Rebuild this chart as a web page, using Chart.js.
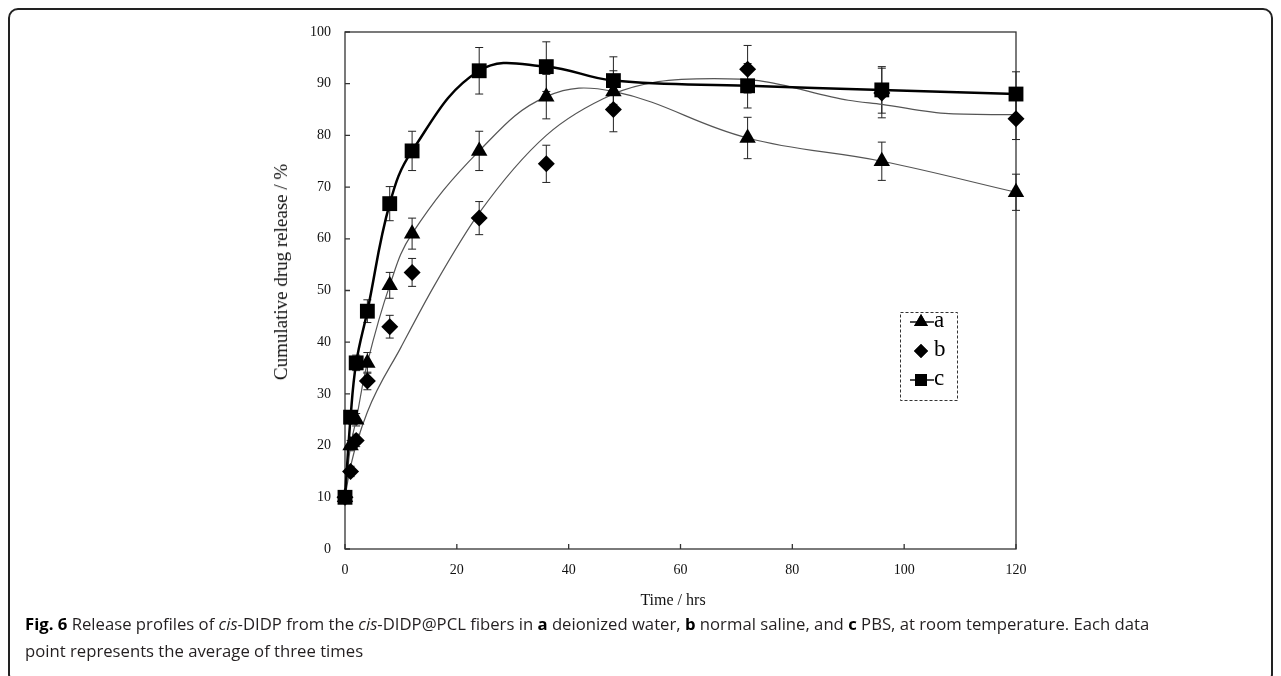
<!DOCTYPE html>
<html lang="en">
<head>
<meta charset="UTF-8">
<title>Release profiles of cis-DIDP</title>
<script src="https://cdn.jsdelivr.net/npm/chart.js"></script>
<style>
  body { margin: 0; background: #fff; }
  .page { position: relative; width: 1281px; height: 676px; overflow: hidden; }
  .frame {
    position: absolute; left: 8px; top: 8px; width: 1265px; height: 676px;
    box-sizing: border-box; border: 2px solid #222; border-radius: 10px;
  }
  #releaseChart { position: absolute; left: 0; top: 0; }
  .ytitle {
    position: absolute; left: 281px; top: 272px;
    transform: translate(-50%, -50%) rotate(-90deg);
    font: 19px "Liberation Serif", serif; color: #111; white-space: nowrap;
  }
  .xtitle {
    position: absolute; left: 673px; top: 600px; transform: translate(-50%, -50%);
    font: 16px "Liberation Serif", serif; color: #111; white-space: nowrap;
  }
  .caption {
    position: absolute; left: 25px; top: 610px;
    font: 16.7px "Open Sans", sans-serif; line-height: 27px; color: #231f20;
    white-space: nowrap;
  }
  .caption b { font-weight: 700; color: #000; }
</style>
</head>
<body>
<div class="page">
  <div class="frame"></div>
  <canvas id="releaseChart" width="1281" height="676"></canvas>
  <div class="ytitle">Cumulative drug release / %</div>
  <div class="xtitle">Time / hrs</div>
  <div class="caption">
    <b>Fig. 6</b> Release profiles of <i>cis</i>-DIDP from the <i>cis</i>-DIDP@PCL fibers in <b>a</b> deionized water, <b>b</b> normal saline, and <b>c</b> PBS, at room temperature. Each data<br>
    point represents the average of three times
  </div>
</div>
<script>
// sampling times (h)
const hours = [0, 1, 2, 4, 8, 12, 24, 36, 48, 72, 96, 120];

// cumulative release (%) and error bars
const releaseA = [10, 20, 25, 36, 51, 61, 77, 87.5, 88.5, 79.5, 75, 69];
const errA     = [0, 1, 1.2, 2, 2.5, 3, 3.8, 4.3, 4, 4, 3.7, 3.5];
const releaseB = [10, 15, 21, 32.5, 43, 53.5, 64, 74.5, 85, 92.8, 88.2, 83.2];
const errB     = [0, 1, 1.2, 1.7, 2.2, 2.7, 3.2, 3.6, 4.3, 4.6, 4.8, 4];
const releaseC = [10, 25.5, 36, 46, 66.8, 77, 92.5, 93.3, 90.6, 89.6, 88.8, 88];
const errC     = [0, 1.2, 1.5, 2.2, 3.3, 3.8, 4.5, 4.8, 4.6, 4.3, 4.5, 4.3];

// smoothed curve drawn for series b (does not pass through its points)
const curveHoursB = [0, 1, 4, 10, 16, 24, 36, 48, 56, 66, 74, 90, 96, 108, 120];
const curveB      = [10, 16, 26.5, 39, 51, 65, 80, 88, 90.4, 91, 90.6, 86.8, 86, 84.2, 84];

const xTicks = [0, 20, 40, 60, 80, 100, 120];
const yTicks = [0, 10, 20, 30, 40, 50, 60, 70, 80, 90, 100];

const toPoints = (xs, ys) => xs.map((x, i) => ({ x: x, y: ys[i] }));

// vertical error bars with caps
const errorBars = {
  id: 'errorBars',
  beforeDatasetsDraw(chart) {
    const { ctx, scales: { x, y } } = chart;
    ctx.save();
    ctx.strokeStyle = '#222';
    ctx.lineWidth = 1;
    chart.data.datasets.forEach(ds => {
      if (!ds.errors) return;
      ds.data.forEach((p, i) => {
        const e = ds.errors[i];
        if (!e) return;
        const px = x.getPixelForValue(p.x);
        const top = y.getPixelForValue(p.y + e);
        const bot = y.getPixelForValue(p.y - e);
        ctx.beginPath();
        ctx.moveTo(px, top); ctx.lineTo(px, bot);
        ctx.moveTo(px - 4, top); ctx.lineTo(px + 4, top);
        ctx.moveTo(px - 4, bot); ctx.lineTo(px + 4, bot);
        ctx.stroke();
      });
    });
    ctx.restore();
  }
};

// box round the plot and inside tick marks
const plotFrame = {
  id: 'plotFrame',
  beforeDatasetsDraw(chart) {
    const { ctx, chartArea: a, scales: { x, y } } = chart;
    ctx.save();
    ctx.strokeStyle = '#333';
    ctx.lineWidth = 1.3;
    ctx.strokeRect(a.left, a.top, a.right - a.left, a.bottom - a.top);
    ctx.beginPath();
    x.ticks.forEach(t => {
      const px = x.getPixelForValue(t.value);
      ctx.moveTo(px, a.bottom); ctx.lineTo(px, a.bottom - 5);
    });
    y.ticks.forEach(t => {
      const py = y.getPixelForValue(t.value);
      ctx.moveTo(a.left, py); ctx.lineTo(a.left + 5, py);
    });
    ctx.stroke();
    ctx.restore();
  }
};

// dashed legend box inside the plot
const boxLegend = {
  id: 'boxLegend',
  afterDraw(chart) {
    const ctx = chart.ctx;
    const entries = [
      { label: 'a', style: 'triangle', r: 8, line: true, y: 322 },
      { label: 'b', style: 'rectRot', r: 7, line: false, y: 351 },
      { label: 'c', style: 'rect', r: 8.5, line: true, y: 380 }
    ];
    ctx.save();
    ctx.strokeStyle = '#333';
    ctx.lineWidth = 1;
    ctx.setLineDash([3, 2]);
    ctx.strokeRect(900.5, 312.5, 57, 88);
    ctx.setLineDash([]);
    entries.forEach(e => {
      if (e.line) {
        ctx.strokeStyle = '#111';
        ctx.lineWidth = 1.5;
        ctx.beginPath();
        ctx.moveTo(910, e.y); ctx.lineTo(934, e.y);
        ctx.stroke();
      }
      ctx.fillStyle = '#000';
      Chart.helpers.drawPoint(ctx, { pointStyle: e.style, radius: e.r, rotation: 0, borderWidth: 0 }, 921, e.y);
      ctx.fill();
      ctx.font = '23px "Liberation Serif", serif';
      ctx.textBaseline = 'middle';
      ctx.textAlign = 'left';
      ctx.fillText(e.label, 934, e.y - 1);
    });
    ctx.restore();
  }
};

new Chart(document.getElementById('releaseChart'), {
  type: 'scatter',
  data: {
    datasets: [
      {
        label: 'b curve',
        data: toPoints(curveHoursB, curveB),
        showLine: true, tension: 0.4, cubicInterpolationMode: 'monotone',
        borderColor: '#555', borderWidth: 1.2, pointRadius: 0,
        clip: false, order: 5
      },
      {
        label: 'a',
        data: toPoints(hours, releaseA), errors: errA,
        showLine: true, tension: 0.4,
        borderColor: '#555', borderWidth: 1.2,
        pointStyle: 'triangle', pointRadius: 9.5,
        pointBackgroundColor: '#000', pointBorderColor: '#000', pointBorderWidth: 0,
        clip: false, order: 4
      },
      {
        label: 'b',
        data: toPoints(hours, releaseB), errors: errB,
        showLine: false,
        pointStyle: 'rectRot', pointRadius: 8.5,
        pointBackgroundColor: '#000', pointBorderColor: '#000', pointBorderWidth: 0,
        clip: false, order: 3
      },
      {
        label: 'c',
        data: toPoints(hours, releaseC), errors: errC,
        showLine: true, tension: 0.4,
        borderColor: '#000', borderWidth: 2.5,
        pointStyle: 'rect', pointRadius: 10.5,
        pointBackgroundColor: '#000', pointBorderColor: '#000', pointBorderWidth: 0,
        clip: false, order: 1
      }
    ]
  },
  options: {
    responsive: false,
    animation: false,
    events: [],
    layout: { padding: { top: 32, right: 265, left: 0, bottom: 0 } },
    plugins: { legend: { display: false }, tooltip: { enabled: false } },
    scales: {
      x: {
        type: 'linear', min: 0, max: 120,
        afterBuildTicks: s => { s.ticks = xTicks.map(v => ({ value: v })); },
        afterFit: s => { s.height = 127; },
        grid: { display: false, drawTicks: false },
        border: { display: false },
        ticks: { padding: 13, color: '#111', font: { family: 'Liberation Serif', size: 14 } }
      },
      y: {
        type: 'linear', min: 0, max: 100,
        afterBuildTicks: s => { s.ticks = yTicks.map(v => ({ value: v })); },
        afterFit: s => { s.width = 345; },
        grid: { display: false, drawTicks: false },
        border: { display: false },
        ticks: { padding: 14, color: '#111', font: { family: 'Liberation Serif', size: 14 } }
      }
    }
  },
  plugins: [plotFrame, errorBars, boxLegend]
});
</script>
</body>
</html>
